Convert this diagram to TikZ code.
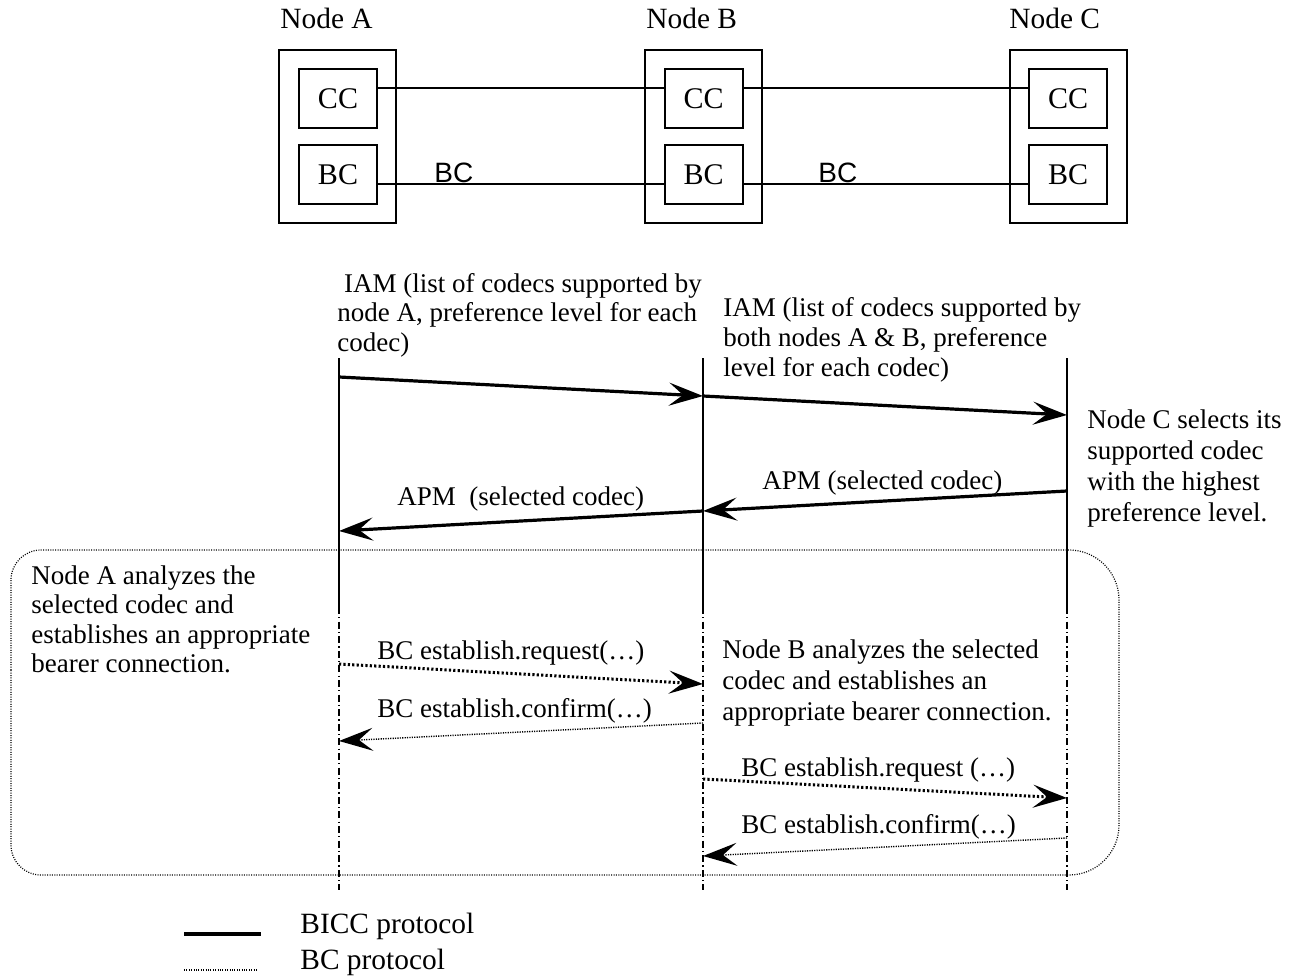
\documentclass[tikz,border=0pt]{standalone}
\usepackage{fontspec}
\setmainfont{Liberation Serif}
\newfontfamily\labelsans{Liberation Sans}
\usetikzlibrary{arrows.meta,calc}

\begin{document}
\begin{tikzpicture}[x=0.5pt,y=-0.5pt,
  every node/.style={inner sep=0pt},
  mainfont/.style={font=\fontsize{13.5pt}{15pt}\selectfont},
  nodebox/.style={draw,line width=0.85pt,minimum width=58.5pt,minimum height=86.5pt},
  unitbox/.style={draw,line width=1pt,minimum width=39pt,minimum height=29.5pt,font=\fontsize{15pt}{17pt}\selectfont},
  link/.style={line width=0.7pt},
  lifesolid/.style={line width=0.75pt},
  lifedash/.style={line width=0.75pt,dash pattern=on 3.5pt off 1.6pt on 0.6pt off 1.6pt},
  tip/.style={-{Stealth[length=17pt,width=11.5pt,inset=7pt]}},
  bicc/.style={line width=1.6pt,tip},
  bcreq/.style={line width=1.5pt,dash pattern=on 1.1pt off 1.1pt,tip},
  bcconf/.style={line width=0.7pt,dash pattern=on 0.6pt off 0.6pt,tip},
  region/.style={line width=0.6pt,dash pattern=on 0.5pt off 0.7pt},
  txt/.style={anchor=base west,align=left,mainfont},
  title/.style={anchor=base west,font=\fontsize{14.7pt}{16pt}\selectfont},
  sanslabel/.style={anchor=base west,font=\labelsans\fontsize{14pt}{16pt}\selectfont},
]
\useasboundingbox (0,0) rectangle (1299,978);

% ---- network nodes with their call control and bearer control units
\node[title] (labA) at (280,29) {Node A};
\node[title] (labB) at (646,29) {Node B};
\node[title] (labC) at (1009,29) {Node C};

\node[nodebox] (boxA) at (337.5,136.5) {};
\node[nodebox] (boxB) at (703.5,136.5) {};
\node[nodebox] (boxC) at (1068.5,136.5) {};

\node[unitbox] (ccA) at (338,98.5) {CC};
\node[unitbox] (bcA) at (338,175) {BC};
\node[unitbox] (ccB) at (703.5,98.5) {CC};
\node[unitbox] (bcB) at (703.5,175) {BC};
\node[unitbox] (ccC) at (1068,98.5) {CC};
\node[unitbox] (bcC) at (1068,175) {BC};

\draw[link] ([yshift=5.25pt]ccA.east) -- ([yshift=5.25pt]ccB.west);
\draw[link] ([yshift=5.25pt]ccB.east) -- ([yshift=5.25pt]ccC.west);
\draw[link] ([yshift=-4.5pt]bcA.east) -- ([yshift=-4.5pt]bcB.west);
\draw[link] ([yshift=-4.5pt]bcB.east) -- ([yshift=-4.5pt]bcC.west);
\node[sanslabel] (bcl1) at (434,183) {BC};
\node[sanslabel] (bcl2) at (818,183) {BC};

% ---- lifelines
\coordinate (A0) at (339,358);  \coordinate (A1) at (339,607);  \coordinate (A2) at (339,890);
\coordinate (B0) at (703,358);  \coordinate (B1) at (703,607);  \coordinate (B2) at (703,890);
\coordinate (C0) at (1067,358); \coordinate (C1) at (1067,607); \coordinate (C2) at (1067,890);
\draw[lifesolid] (A0) -- (A1);  \draw[lifedash] (A1) -- (A2);
\draw[lifesolid] (B0) -- (B1);  \draw[lifedash] (B1) -- (B2);
\draw[lifesolid] (C0) -- (C1);  \draw[lifedash] (C1) -- (C2);

% ---- enclosing area for the bearer set-up phase
\draw[region] (11,700) [rounded corners=15pt] -- (11,550) -- (560,550)
  [rounded corners=25pt] -- (1119,550) -- (1119,875) -- (560,875)
  [rounded corners=15pt] -- (11,875) -- cycle;

% ---- BICC messages
\coordinate (iamA) at (339,377);  \coordinate (iamB) at (703,396);  \coordinate (iamC) at (1067,415);
\coordinate (apmC) at (1067,491); \coordinate (apmB) at (703,511);  \coordinate (apmA) at (339,531);
\draw[bicc] (iamA) -- (iamB);
\draw[bicc] (iamB) -- (iamC);
\draw[bicc] (apmC) -- (apmB);
\draw[bicc] (apmB) -- (apmA);

% multi-line labels are placed by the baseline of their last line
\node[txt,font=\fontsize{13.5pt}{14.75pt}\selectfont] (iam1) at (337,351) {~IAM (list of codecs supported by\\node A, preference level for each\\codec)};
\node[txt] (iam2) at (723,376) {IAM (list of codecs supported by\\both nodes A \& B, preference\\level for each codec)};
\node[txt,font=\fontsize{13.5pt}{15.5pt}\selectfont] (selC) at (1087,521) {Node C selects its\\supported codec\\with the highest\\preference level.};
\node[txt] (apm1) at (762,489) {APM (selected codec)};
\node[txt] (apm2) at (397,505) {APM\ \ (selected codec)};

% ---- BC messages
\coordinate (rqA) at (339,664);  \coordinate (rqB) at (703,684);
\coordinate (cfB) at (703,723);  \coordinate (cfA) at (339,741);
\coordinate (rqB2) at (703,779); \coordinate (rqC) at (1067,798);
\coordinate (cfC) at (1067,838); \coordinate (cfB2) at (703,856);
\draw[bcreq] (rqA) -- (rqB);
\draw[bcconf] (cfB) -- (cfA);
\draw[bcreq] (rqB2) -- (rqC);
\draw[bcconf] (cfC) -- (cfB2);

\node[txt,font=\fontsize{13.5pt}{14.75pt}\selectfont] (anA) at (31,672.5) {Node A analyzes the\\selected codec and\\establishes an appropriate\\bearer connection.};
\node[txt,font=\fontsize{13.5pt}{15.5pt}\selectfont] (anB) at (722,720) {Node B analyzes the selected\\codec and establishes an\\appropriate bearer connection.};
\node[txt] (rq1) at (377,659) {BC establish.request(…)};
\node[txt] (cf1) at (377,717) {BC establish.confirm(…)};
\node[txt] (rq2) at (741,776) {BC establish.request (…)};
\node[txt] (cf2) at (741,833) {BC establish.confirm(…)};

% ---- legend
\coordinate (lg1a) at (184,934); \coordinate (lg1b) at (261,934);
\coordinate (lg2a) at (184,970); \coordinate (lg2b) at (258,970);
\draw[line width=2pt] (lg1a) -- (lg1b);
\draw[line width=0.6pt,dash pattern=on 0.5pt off 0.7pt] (lg2a) -- (lg2b);
\node[title] (lgt1) at (300,933) {BICC protocol};
\node[title] (lgt2) at (300,969) {BC protocol};
\end{tikzpicture}
\end{document}
